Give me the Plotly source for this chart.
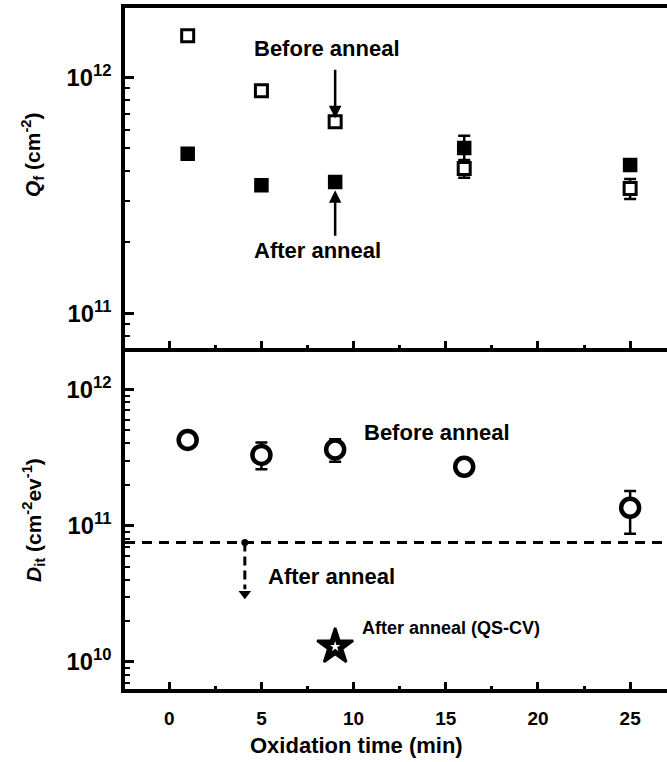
import plotly.graph_objects as go

# ---------------- data ----------------
time_min = [1, 5, 9, 16, 25]

qf_before = [1.50e12, 8.77e11, 6.49e11, 4.11e11, 3.38e11]
qf_before_err = [0.3e11, 0.3e11, 0.3e11, 0.36e11, 0.33e11]
qf_after = [4.74e11, 3.49e11, 3.60e11, 5.02e11, 4.25e11]
qf_after_err = [0.1e11, 0.1e11, 0.15e11, 0.63e11, 0.1e11]

dit_before = [4.25e11, 3.30e11, 3.62e11, 2.70e11, 1.35e11]
dit_before_err_plus = [0.2e11, 0.76e11, 0.68e11, 0.2e11, 0.44e11]
dit_before_err_minus = [0.2e11, 0.71e11, 0.68e11, 0.2e11, 0.48e11]

dit_after_limit = 7.5e10          # upper limit after anneal (dashed line)
limit_arrow_time = [4.1]
limit_arrow_end = 3.4e10
limit_arrow_tip = 3.15e10

qscv_time = [9]
dit_qscv = [1.29e10]

x_range = [-2.4, 27.0]
x_ticks = [0, 5, 10, 15, 20, 25]

# ---------------- layout helpers ----------------
W, H = 667, 762
FONT = "Liberation Sans, Arial, Helvetica, sans-serif"


def px_x(p):
    return p / W


def px_y(p):
    return 1 - p / H


fig = go.Figure()

# ---- top panel: Qf ----
fig.add_trace(go.Scatter(
    x=time_min, y=qf_after, mode="markers", xaxis="x", yaxis="y",
    marker=dict(symbol="square", size=13, color="black", line=dict(color="black", width=1.5)),
    error_y=dict(type="data", array=qf_after_err, color="black", thickness=2.5, width=6),
    showlegend=False))
fig.add_trace(go.Scatter(
    x=time_min, y=qf_before, mode="markers", xaxis="x", yaxis="y",
    marker=dict(symbol="square", size=12, color="white", line=dict(color="black", width=3)),
    error_y=dict(type="data", array=qf_before_err, color="black", thickness=2.5, width=6),
    showlegend=False))

# ---- bottom panel: Dit ----
fig.add_trace(go.Scatter(
    x=[x_range[0], x_range[1]], y=[dit_after_limit, dit_after_limit], mode="lines",
    xaxis="x2", yaxis="y2", line=dict(color="black", width=3, dash="10px,7px"),
    showlegend=False))
fig.add_trace(go.Scatter(
    x=limit_arrow_time * 2, y=[dit_after_limit, limit_arrow_end], mode="lines",
    xaxis="x2", yaxis="y2", line=dict(color="black", width=3, dash="9px,5px"),
    showlegend=False))
fig.add_trace(go.Scatter(
    x=limit_arrow_time, y=[dit_after_limit], mode="markers", xaxis="x2", yaxis="y2",
    marker=dict(symbol="circle", size=7, color="black"), showlegend=False))
fig.add_trace(go.Scatter(
    x=limit_arrow_time, y=[limit_arrow_tip], mode="markers", xaxis="x2", yaxis="y2",
    marker=dict(symbol="triangle-down", size=11, color="black"), showlegend=False))

fig.add_trace(go.Scatter(
    x=time_min, y=dit_before, mode="markers", xaxis="x2", yaxis="y2",
    marker=dict(symbol="circle", size=18, color="white", line=dict(color="black", width=4.5)),
    error_y=dict(type="data", array=dit_before_err_plus, arrayminus=dit_before_err_minus,
                 color="black", thickness=2.5, width=6),
    showlegend=False))

fig.add_trace(go.Scatter(
    x=qscv_time, y=dit_qscv, mode="markers", xaxis="x2", yaxis="y2",
    marker=dict(symbol="star", size=27, color="black", line=dict(color="black", width=2.5)),
    showlegend=False))
fig.add_trace(go.Scatter(
    x=qscv_time, y=dit_qscv, mode="markers", xaxis="x2", yaxis="y2",
    marker=dict(symbol="star", size=8, color="white"),
    showlegend=False))

tickfont = dict(family=FONT, size=19, color="black", weight="bold")

xcommon = dict(range=x_range, tickmode="array", tickvals=x_ticks, ticks="inside",
               ticklen=7, tickwidth=2.5, tickcolor="black",
               minor=dict(ticks="inside", ticklen=3, tickwidth=2.5, tickcolor="black",
                          tickmode="array", tickvals=[2.5, 7.5, 12.5, 17.5, 22.5]),
               showline=True, linewidth=3.5, linecolor="black", showgrid=False,
               zeroline=False, domain=[px_x(125), 1.0], tickfont=tickfont)

ycommon = dict(type="log", dtick=1, ticks="inside", ticklen=9, tickwidth=2.5,
               tickcolor="black",
               minor=dict(ticks="inside", ticklen=5, tickwidth=2, tickcolor="black", dtick="D1"),
               showline=True, linewidth=3.5, linecolor="black", showgrid=False,
               zeroline=False, exponentformat="power", showexponent="all",
               tickfont=tickfont, ticklabelstandoff=6)

fig.update_layout(
    width=W, height=H, margin=dict(l=0, r=0, t=0, b=0),
    paper_bgcolor="white", plot_bgcolor="white",
    xaxis=dict(**xcommon, anchor="y", showticklabels=False, mirror=True),
    yaxis=dict(**ycommon, anchor="x", range=[10.853, 12.294], domain=[px_y(348), px_y(8)]),
    xaxis2=dict(**xcommon, anchor="y2", matches="x", ticklabelstandoff=9),
    yaxis2=dict(**ycommon, anchor="x2", range=[9.80, 12.303], domain=[px_y(689), px_y(348)]),
)

ann_font = dict(family=FONT, size=22, color="black", weight="bold")
annotations = [
    dict(text="Before anneal", x=px_x(252), y=px_y(48), xanchor="left", yanchor="middle"),
    dict(text="After anneal", x=px_x(252), y=px_y(250), xanchor="left", yanchor="middle"),
    dict(text="Before anneal", x=px_x(362), y=px_y(432), xanchor="left", yanchor="middle"),
    dict(text="After anneal", x=px_x(266), y=px_y(576), xanchor="left", yanchor="middle"),
]
for a in annotations:
    fig.add_annotation(xref="paper", yref="paper", showarrow=False, font=ann_font, **a)

fig.add_annotation(text="After anneal (QS-CV)", xref="paper", yref="paper",
                   x=px_x(360), y=px_y(628), xanchor="left", yanchor="middle",
                   showarrow=False, font=dict(family=FONT, size=18, color="black", weight="bold"))

# axis titles
fig.add_annotation(text="<i>Q</i><sub>f</sub> (cm<sup>-2</sup>)", xref="paper", yref="paper",
                   x=px_x(33), y=px_y(155), textangle=-90, showarrow=False,
                   xanchor="center", yanchor="middle",
                   font=dict(family=FONT, size=21, color="black", weight="bold"))
fig.add_annotation(text="<i>D</i><sub>it</sub> (cm<sup>-2</sup>ev<sup>-1</sup>)", xref="paper",
                   yref="paper", x=px_x(33), y=px_y(520), textangle=-90, showarrow=False,
                   xanchor="center", yanchor="middle",
                   font=dict(family=FONT, size=21, color="black", weight="bold"))
fig.add_annotation(text="Oxidation time (min)", xref="paper", yref="paper",
                   x=px_x(356), y=px_y(745), showarrow=False, xanchor="center", yanchor="middle",
                   font=dict(family=FONT, size=22, color="black", weight="bold"))

# arrows in top panel (tip -> tail in data coordinates, log units on y)
fig.add_annotation(xref="x", yref="y", axref="x", ayref="y", x=9, y=11.827, ax=9, ay=12.039,
                   text="", showarrow=True, arrowhead=2, arrowwidth=2.5, arrowsize=1,
                   arrowcolor="black")
fig.add_annotation(xref="x", yref="y", axref="x", ayref="y", x=9, y=11.522, ax=9, ay=11.322,
                   text="", showarrow=True, arrowhead=2, arrowwidth=2.5, arrowsize=1,
                   arrowcolor="black")

fig.write_html("out.html")
